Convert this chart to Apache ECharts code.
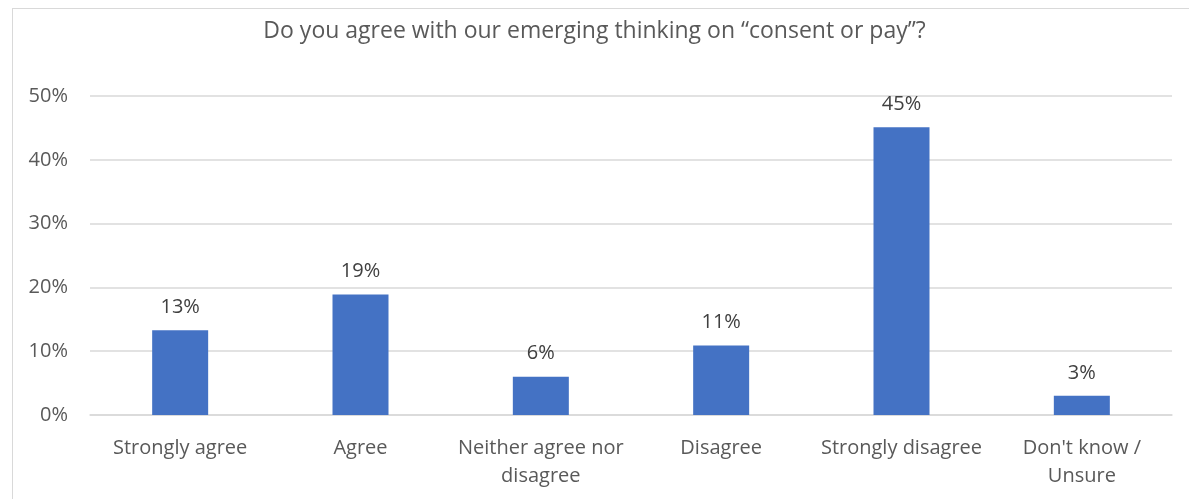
<!DOCTYPE html>
<html><head><meta charset="utf-8">
<script src="https://cdn.jsdelivr.net/npm/echarts@6/dist/echarts.min.js"></script>
<style>
html,body{margin:0;padding:0;background:#fff;}
#frame{position:absolute;left:12px;top:8px;width:1180px;height:500px;border:1px solid #d9d9d9;box-sizing:border-box;}
#c{position:absolute;left:0;top:0;width:1189px;height:499px;}
</style></head>
<body>
<div id="frame"></div>
<div id="c"></div>
<script>
const titleText = 'Do you agree with our emerging thinking on \u201cconsent or pay\u201d?';
const categories = ['Strongly agree', 'Agree', 'Neither agree nor\ndisagree', 'Disagree', 'Strongly disagree', "Don't know /\nUnsure"];
const values = [13.3, 18.9, 6.0, 10.9, 45.1, 3.0];
const yTicks = [0, 10, 20, 30, 40, 50];

const chart = echarts.init(document.getElementById('c'));
const font = "'Open Sans', 'Liberation Sans', sans-serif";
chart.setOption({
  animation: false,
  title: {text: titleText, left: 'center', top: 15,
    textStyle: {fontFamily: font, fontSize: 23, fontWeight: 'normal', color: '#595959'}},
  grid: {left: 90, right: 17, top: 96, bottom: 84},
  xAxis: {type: 'category', data: categories,
    axisLine: {lineStyle: {color: '#d9d9d9', width: 1.5}},
    axisTick: {show: false},
    axisLabel: {fontFamily: font, fontSize: 20, color: '#595959', margin: 19, lineHeight: 28, interval: 0}},
  yAxis: {type: 'value', min: 0, max: 50, interval: 10,
    axisLine: {show: false}, axisTick: {show: false},
    splitLine: {lineStyle: {color: '#d9d9d9', width: 1.5}},
    axisLabel: {fontFamily: font, fontSize: 20, color: '#595959', margin: 22,
      formatter: v => yTicks.includes(v) ? v + '%' : ''}},
  series: [{type: 'bar', data: values, barWidth: 56,
    itemStyle: {color: '#4472c4'},
    label: {show: true, position: 'top', distance: 13, fontFamily: font, fontSize: 20, color: '#404040',
      formatter: p => Math.round(p.value) + '%'}}]
});
</script>
</body></html>
